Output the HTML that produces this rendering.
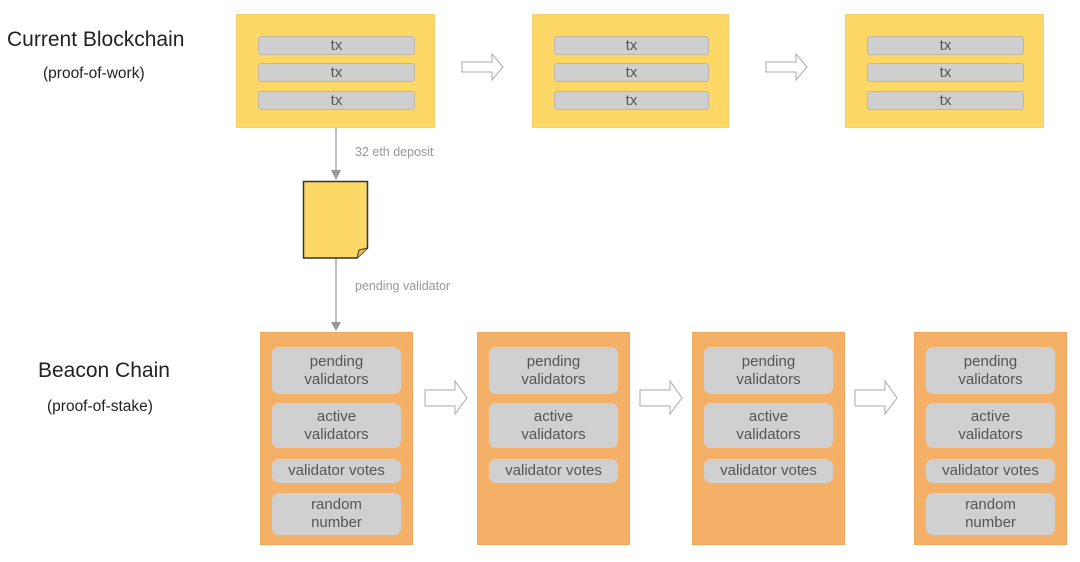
<!DOCTYPE html>
<html><head><meta charset="utf-8"><style>
body{margin:0;width:1080px;height:562px;background:#fff;position:relative;overflow:hidden;font-family:"Liberation Sans",Arial,sans-serif;}
.a{position:absolute}
.y{background:#fdd867;border:1px solid #f2cf70;box-sizing:border-box}
.o{background:#f5b068;border:1px solid #eca863;box-sizing:border-box}
.tx{position:absolute;left:21px;right:19px;height:19px;background:#cfcfcf;border:1px solid #bdb6a6;border-radius:3px;box-sizing:border-box;text-align:center;color:#555;font-size:15px;line-height:18px}
.b{position:absolute;left:11px;right:11px;background:#d0d0d0;border-radius:7px;text-align:center;color:#555;font-size:15px;line-height:18px;display:flex;align-items:center;justify-content:center;flex-direction:column}
.lbl{color:#999;font-size:12.5px}
</style></head><body>
<div class="a" style="left:7px;top:28px;font-size:21px;color:#222">Current Blockchain</div>
<div class="a" style="left:43px;top:65px;font-size:15.5px;color:#222">(proof-of-work)</div>
<div class="a" style="left:38px;top:359px;font-size:21px;color:#222">Beacon Chain</div>
<div class="a" style="left:47px;top:398px;font-size:15.5px;color:#222">(proof-of-stake)</div>

<div class="a y" style="left:236px;top:14px;width:199px;height:114px">
<div class="tx" style="top:21px">tx</div><div class="tx" style="top:48px">tx</div><div class="tx" style="top:76px">tx</div></div>
<div class="a y" style="left:532px;top:14px;width:197px;height:114px">
<div class="tx" style="top:21px">tx</div><div class="tx" style="top:48px">tx</div><div class="tx" style="top:76px">tx</div></div>
<div class="a y" style="left:845px;top:14px;width:199px;height:114px">
<div class="tx" style="top:21px">tx</div><div class="tx" style="top:48px">tx</div><div class="tx" style="top:76px">tx</div></div>

<div class="a lbl" style="left:355px;top:145px">32 eth deposit</div>
<div class="a lbl" style="left:355px;top:279px">pending validator</div>

<svg class="a" style="left:0;top:0" width="1080" height="562">
<g fill="#fff" stroke="#aaa" stroke-width="1">
<path d="M462 62H492V54L503 67L492 80V72H462Z"/>
<path d="M766 62H796V54L807 67L796 80V72H766Z"/>
<path d="M425 390H455V381L467 398L455 414V406H425Z"/>
<path d="M640 390H670V381L682 398L670 414V406H640Z"/>
<path d="M855 390H885V381L897 398L885 414V406H855Z"/>
</g>
<line x1="336" y1="128" x2="336" y2="172" stroke="#aaa" stroke-width="1.5"/>
<path d="M331 170L341 170L336 180Z" fill="#999"/>
<line x1="336" y1="258" x2="336" y2="324" stroke="#aaa" stroke-width="1.5"/>
<path d="M331 322L341 322L336 331Z" fill="#999"/>
<path d="M303.5 181.5H367.5V248L357 258H303.5Z" fill="#fdd867" stroke="#333" stroke-width="1.5"/>
<path d="M357 258L359 250L367.5 248" fill="#e8c050" stroke="#333" stroke-width="1"/>
</svg>

<div class="a o" style="left:260px;top:332px;width:153px;height:213px">
<div class="b" style="top:14px;height:47px">pending<br>validators</div>
<div class="b" style="top:70px;height:45px">active<br>validators</div>
<div class="b" style="top:126px;height:24px">validator votes</div>
<div class="b" style="top:160px;height:42px">random<br>number</div></div>
<div class="a o" style="left:477px;top:332px;width:153px;height:213px">
<div class="b" style="top:14px;height:47px">pending<br>validators</div>
<div class="b" style="top:70px;height:45px">active<br>validators</div>
<div class="b" style="top:126px;height:24px">validator votes</div></div>
<div class="a o" style="left:692px;top:332px;width:153px;height:213px">
<div class="b" style="top:14px;height:47px">pending<br>validators</div>
<div class="b" style="top:70px;height:45px">active<br>validators</div>
<div class="b" style="top:126px;height:24px">validator votes</div></div>
<div class="a o" style="left:914px;top:332px;width:153px;height:213px">
<div class="b" style="top:14px;height:47px">pending<br>validators</div>
<div class="b" style="top:70px;height:45px">active<br>validators</div>
<div class="b" style="top:126px;height:24px">validator votes</div>
<div class="b" style="top:160px;height:42px">random<br>number</div></div>
</body></html>
